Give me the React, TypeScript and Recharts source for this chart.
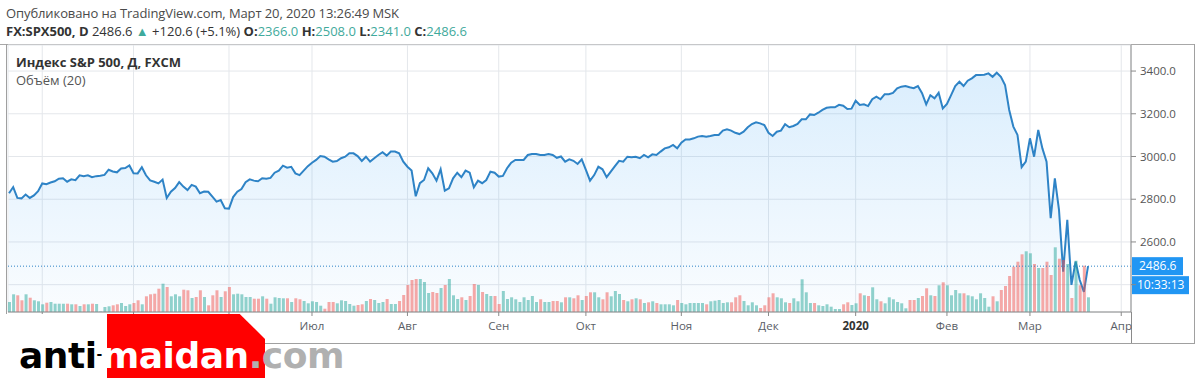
import React from 'react';
import { ComposedChart, Area, Bar, Cell, XAxis, YAxis, CartesianGrid, ReferenceLine } from 'recharts';

// Daily closes (FX:SPX500, FXCM), 20 Mar 2019 .. 20 Mar 2020, one value per trading bar
const closes = [
  2828, 2857, 2806, 2804, 2822, 2806, 2818, 2838, 2874, 2870,
  2878, 2884, 2896, 2898, 2882, 2893, 2889, 2912, 2908, 2912,
  2903, 2908, 2910, 2914, 2938, 2930, 2926, 2944, 2946, 2958,
  2922, 2921, 2950, 2912, 2888, 2882, 2874, 2892, 2806, 2835,
  2852, 2880, 2859, 2843, 2867, 2859, 2828, 2836, 2835, 2812,
  2789, 2796, 2758, 2756, 2810, 2835, 2848, 2880, 2893, 2887,
  2884, 2898, 2896, 2900, 2924, 2934, 2957, 2948, 2952, 2921,
  2913, 2934, 2955, 2971, 2984, 3002, 2999, 2987, 2976, 2979,
  2992, 2999, 3015, 3015, 3002, 2979, 2999, 2976, 2992, 3007,
  3020, 3004, 3023, 3023, 3015, 2976, 2952, 2934, 2814, 2875,
  2890, 2945, 2921, 2887, 2940, 2840, 2851, 2898, 2924, 2903,
  2934, 2924, 2856, 2887, 2875, 2890, 2929, 2924, 2906, 2909,
  2945, 2971, 2984, 2984, 2984, 3007, 3012, 3012, 3007, 3007,
  3012, 3007, 2994, 3000, 2976, 2987, 2980, 2965, 2987, 2937,
  2887, 2913, 2952, 2940, 2903, 2929, 2955, 2980, 2976, 2999,
  2996, 2999, 2992, 3007, 2996, 3010, 3007, 3023, 3038, 3043,
  3054, 3038, 3065, 3080, 3080, 3085, 3093, 3096, 3093, 3096,
  3101, 3101, 3121, 3127, 3121, 3111, 3105, 3116, 3137, 3152,
  3160, 3155, 3147, 3111, 3096, 3116, 3121, 3151, 3137, 3143,
  3152, 3174, 3174, 3197, 3194, 3205, 3218, 3228, 3230, 3230,
  3242, 3238, 3222, 3224, 3261, 3241, 3244, 3236, 3268, 3280,
  3268, 3292, 3292, 3298, 3319, 3327, 3330, 3324, 3320, 3330,
  3296, 3244, 3287, 3272, 3298, 3225, 3246, 3287, 3330, 3350,
  3330, 3355, 3366, 3381, 3381, 3383, 3389, 3373, 3392, 3373,
  3335, 3218, 3140, 3101, 2950, 2976, 3085, 2999, 3124, 3038,
  2976, 2711, 2898, 2750, 2461, 2703, 2399, 2508, 2422, 2366,
  2486.6,
];

// Relative volume per bar
const volumes = [
  10, 17.7, 16.7, 11.7, 17.7, 14.3, 11.7, 10.7, 7.7, 9.3,
  10, 8.3, 8.3, 8.3, 8.3, 7.7, 7.7, 6, 7.7, 7.7,
  8.3, 8, 0.5, 5, 5.7, 6.7, 7.7, 9, 6, 7.7,
  9, 11.7, 7.7, 15.7, 17.7, 18.3, 23.3, 28.3, 25, 15.7,
  17.7, 15.7, 22.3, 21.7, 14, 15, 21.7, 15, 6.7, 16.7,
  21.7, 15, 20.7, 25, 17.7, 18.3, 17.7, 15, 15, 13.3,
  13.3, 15.7, 13.3, 8.3, 14.7, 14, 13.7, 13.7, 10, 13.7,
  12.7, 11, 8.7, 10.7, 10, 6.3, 3.3, 10, 10, 8.7,
  11.7, 11, 8, 6.3, 7, 7.7, 11, 13, 12, 9,
  10, 13, 8, 8, 11, 17, 27, 32, 33, 33,
  30, 19, 20, 19, 24, 27, 33, 16.7, 13, 14.7,
  12, 16, 28, 27, 20, 18, 16, 16, 8, 21,
  13, 14.7, 12.7, 10, 14.7, 12, 16, 10, 12.7, 10,
  10, 11, 11, 9.7, 14.7, 14.7, 13.7, 16.7, 12, 16,
  19.7, 19.7, 14.7, 12.7, 19.7, 15.7, 21, 18, 12, 10.7,
  12.7, 13.7, 12.7, 9, 9.7, 10.7, 9, 7.7, 7.7, 7.7,
  6.7, 12, 9, 7.7, 9, 9, 9, 9, 7.7, 10.7,
  11.3, 12, 9, 9.7, 9.7, 14.7, 16.7, 11, 6.7, 9.7,
  6.7, 4, 6.7, 14.7, 18.7, 14.7, 13.7, 9.7, 9, 13.7,
  10.7, 32.7, 19.7, 9, 9, 6.7, 6, 7.7, 5.3, 3,
  3, 7.7, 9.7, 7, 8.7, 18.7, 16.7, 16, 24.7, 12.7,
  10.7, 8.7, 14.7, 12.7, 10, 8.7, 3.7, 12, 12, 14,
  16, 23.7, 16.7, 16, 26.7, 29.7, 26.7, 16.7, 22, 18.7,
  18.7, 16.7, 15.7, 12.7, 18.7, 14, 5.3, 15.7, 10.7, 22,
  26, 36, 45.3, 50.3, 57.7, 60.7, 58.7, 48, 44, 44,
  50.3, 37, 64.7, 53.3, 52, 48, 14, 51.3, 26.7, 46.3,
  14.7,
];

const monthTickIndex = [8, 30, 53, 73, 96, 118, 139, 162, 183, 204, 226, 246, 268];
const monthTickLabels = ['Апр', 'Май', 'Июн', 'Июл', 'Авг', 'Сен', 'Окт', 'Ноя', 'Дек', '2020', 'Фев', 'Мар', 'Апр'];
const priceTicks = [2400, 2600, 2800, 3000, 3200, 3400];
const hiddenPriceLabels = [2400];
const lastPrice = 2486.6;
const lastTime = '10:33:13';

const data = closes.map((close, i) => ({
  i,
  close,
  vol: volumes[i],
  up: i === 0 ? true : close >= closes[i - 1],
}));

const FONT = '"Open Sans", "Noto Sans", sans-serif';
const LINE = '#2e83c6';
const UP = 'rgba(38,166,154,0.5)';
const DOWN = 'rgba(239,83,80,0.5)';
const TEAL = '#3faa9c';

const XTick = (props: any) => {
  const { x, y, payload } = props;
  const k = monthTickIndex.indexOf(payload.value);
  const label = k >= 0 ? monthTickLabels[k] : '';
  const bold = label === '2020';
  return (
    <text x={x} y={y} dy={12} textAnchor="middle" fontSize={11.5} fontFamily={FONT}
      fill={bold ? '#333' : '#5a5e66'} fontWeight={bold ? 700 : 400}>
      {label}
    </text>
  );
};

const YTick = (props: any) => {
  const { x, y, payload } = props;
  if (hiddenPriceLabels.indexOf(payload.value) >= 0) return <g />;
  return (
    <text x={x} y={y} dy="0.355em" textAnchor="start" fontSize={11.5} fontFamily={FONT} fill="#555">
      {Number(payload.value).toFixed(1)}
    </text>
  );
};

const PriceTag = (props: any) => {
  const vb = props.viewBox || {};
  const x = (vb.x || 0) + (vb.width || 0);
  const y = vb.y || 0;
  return (
    <g>
      <rect x={x + 1} y={y - 9} width={51} height={18} fill="#2196f3" />
      <text x={x + 8} y={y} dy="0.36em" fill="#fff" fontSize={12} fontFamily={FONT}>{lastPrice.toFixed(1)}</text>
      <rect x={x + 1} y={y + 10} width={57} height={18} fill="#2196f3" />
      <text x={x + 6} y={y + 19} dy="0.36em" fill="#fff" fontSize={12} fontFamily={FONT}>{lastTime}</text>
    </g>
  );
};

export default function App() {
  return (
    <div style={{ position: 'absolute', left: 0, top: 0, width: 1200, height: 378, background: '#fff', overflow: 'hidden', fontFamily: FONT }}>
      {/* header */}
      <div style={{ position: 'absolute', left: 6, top: 4, fontSize: 13, color: '#4a4a4a', whiteSpace: 'nowrap', lineHeight: '18px', letterSpacing: -0.1 }}>
        Опубликовано на TradingView.com, Март 20, 2020 13:26:49 MSK
      </div>
      <div style={{ position: 'absolute', left: 6, top: 22, fontSize: 13, color: '#333', whiteSpace: 'nowrap', lineHeight: '18px' }}>
        <b>FX:SPX500, D</b> 2486.6 <span style={{ color: TEAL }}>▲</span> +120.6 (+5.1%){' '}
        <b>O:</b><span style={{ color: TEAL }}>2366.0</span>{' '}
        <b>H:</b><span style={{ color: TEAL }}>2508.0</span>{' '}
        <b>L:</b><span style={{ color: TEAL }}>2341.0</span>{' '}
        <b>C:</b><span style={{ color: TEAL }}>2486.6</span>
      </div>

      {/* frame */}
      <div style={{ position: 'absolute', left: 0, top: 44, width: 1195, height: 1, background: '#a8a8a8' }} />
      <div style={{ position: 'absolute', left: 6, top: 44, width: 1, height: 300, background: '#a0a0a0' }} />
      <div style={{ position: 'absolute', left: 1194, top: 44, width: 1, height: 300, background: '#a0a0a0' }} />
      <div style={{ position: 'absolute', left: 6, top: 343, width: 1189, height: 1, background: '#a0a0a0' }} />
      <div style={{ position: 'absolute', left: 1131, top: 312, width: 1, height: 31, background: '#8a8a8a' }} />

      <div style={{ position: 'absolute', left: 0, top: 0 }}>
        <ComposedChart width={1200} height={378} data={data} margin={{ top: 45, right: 6, bottom: 35, left: 8 }}>
          <defs>
            <linearGradient id="areaFill" gradientUnits="userSpaceOnUse" x1="0" y1="45" x2="0" y2="312">
              <stop offset="0" stopColor="#2196f3" stopOpacity={0.3} />
              <stop offset="1" stopColor="#2196f3" stopOpacity={0.04} />
            </linearGradient>
          </defs>
          <CartesianGrid yAxisId="price" stroke="#e4e7eb" strokeWidth={1} />
          <XAxis dataKey="i" type="number" domain={[-0.25, 270.35]} allowDataOverflow
            ticks={monthTickIndex} interval={0} tick={<XTick />} tickSize={4}
            stroke="#8a8a8a" tickLine={{ stroke: '#8a8a8a' }} height={31} />
          <YAxis yAxisId="price" orientation="right" type="number" domain={[2272, 3522]} allowDataOverflow
            ticks={priceTicks} interval={0} width={63} tickSize={5} tickMargin={4}
            tick={<YTick />}
            stroke="#8a8a8a" />
          <YAxis yAxisId="vol" hide domain={[0, 267]} allowDataOverflow />
          <Area yAxisId="price" dataKey="close" type="linear" stroke={LINE} strokeWidth={2}
            fill="url(#areaFill)" isAnimationActive={false} dot={false} activeDot={false} />
          <Bar yAxisId="vol" dataKey="vol" barSize={3} isAnimationActive={false}>
            {data.map((d) => (
              <Cell key={d.i} fill={d.up ? UP : DOWN} />
            ))}
          </Bar>
          <ReferenceLine yAxisId="price" y={lastPrice} stroke={LINE} strokeDasharray="1 2" strokeWidth={1}
            label={<PriceTag />} />
        </ComposedChart>
      </div>

      {/* top-left legend */}
      <div style={{ position: 'absolute', left: 16, top: 53, fontSize: 13, fontWeight: 700, color: '#333', whiteSpace: 'nowrap', lineHeight: '18px' }}>
        Индекс S&amp;P 500, Д, FXCM
      </div>
      <div style={{ position: 'absolute', left: 16, top: 71, fontSize: 13, color: '#555', whiteSpace: 'nowrap', lineHeight: '18px' }}>
        Объём (20)
      </div>

      {/* watermark */}
      <div style={{ position: 'absolute', left: 0, top: 314, width: 265, height: 64, background: '#fff' }} />
      <div style={{ position: 'absolute', left: 107, top: 314, width: 158, height: 64, background: '#ff0000',
        clipPath: 'polygon(0 0, 84% 0, 100% 39%, 100% 100%, 0 100%)' }} />
      <div style={{ position: 'absolute', left: 19, top: 338, fontFamily: '"DejaVu Sans", sans-serif', fontWeight: 700,
        fontSize: 36, lineHeight: '36px', whiteSpace: 'nowrap', letterSpacing: -0.5 }}>
        <span style={{ color: '#000' }}>anti</span>
        <span style={{ color: '#000', fontSize: 14, position: 'relative', top: -9 }}>-</span>
        <span style={{ color: '#fff' }}>maidan</span>
        <span style={{ color: '#b0b0b0' }}>.com</span>
      </div>
    </div>
  );
}
